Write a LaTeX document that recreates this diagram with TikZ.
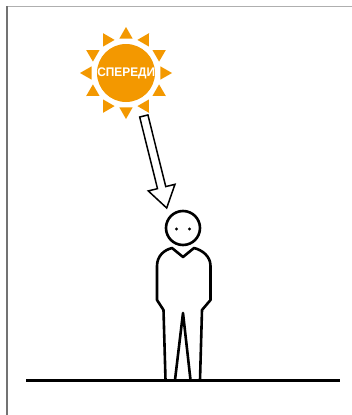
\documentclass[tikz,border=0pt]{standalone}
\usepackage{fontspec}
\newfontfamily\signfont{Liberation Sans}
\usetikzlibrary{calc}
\definecolor{sunorange}{RGB}{243,152,0}
\definecolor{framegray}{RGB}{175,175,175}

\begin{document}
\begin{tikzpicture}[x=1pt,y=-1pt,
        outline/.style={line width=2.6pt,line join=round,line cap=round},
        ray/.style={fill=sunorange}]
            \useasboundingbox (0,0) rectangle (352,415);
            \draw[framegray,line width=1.2pt] (7,6.5) -- (352,6.5);
            \draw[black!55,line width=1.2pt] (7,415) -- (7,6);
            % sun with its rays
            \node[circle,fill=sunorange,minimum size=58pt,inner sep=0pt] (sun) at (126,73) {};
            \node[white,font=\signfont\bfseries\fontsize{12.5}{12.5}\selectfont,xscale=0.95] (label) at (126.3,73.5) {СПЕРЕДИ};
            \foreach \a in {0,30,...,330}
                \fill[ray,shift={(sun.center)}] (\a:46) -- (\a+11:35) -- (\a-11:35) -- cycle;
            % hollow arrow
            \coordinate (tail) at (143.8,116);
            \coordinate (tip) at (166.7,208);
            \coordinate (barb) at ($(tip)!21pt!(tail)$);
            \draw[line width=1.5pt,fill=white] ($(tail)!4.25pt!90:(tip)$) -- ($(barb)!4.25pt!90:(tip)$) -- ($(barb)!13.75pt!90:(tip)$) -- (tip)
                -- ($(barb)!13.75pt!-90:(tip)$) -- ($(barb)!4.25pt!-90:(tip)$) -- ($(tail)!4.25pt!-90:(tip)$) -- cycle;
            % person
            \node[circle,draw,outline,minimum size=34pt,inner sep=0pt] (head) at (183,228) {};
            \fill ([xshift=-6.5pt,yshift=-1pt]head.center) circle (1.6pt);
            \fill ([xshift=6.5pt,yshift=-1pt]head.center) circle (1.6pt);
            \draw[outline] (165.5,380) -- (163.5,310) -- (157,300) -- (157,266) .. controls (157,256) and (164,250) .. (172,248) -- (183,257) -- (194,248)
                .. controls (202,250) and (210.5,256) .. (210.5,266) -- (210.5,300) -- (202,310) -- (200,380);
            \draw[outline] (175,380) -- (183,313) -- (190.5,380);
            % ground
            \draw[line width=3pt] (26,380) -- (340,380);
        \end{tikzpicture}
\end{document}
